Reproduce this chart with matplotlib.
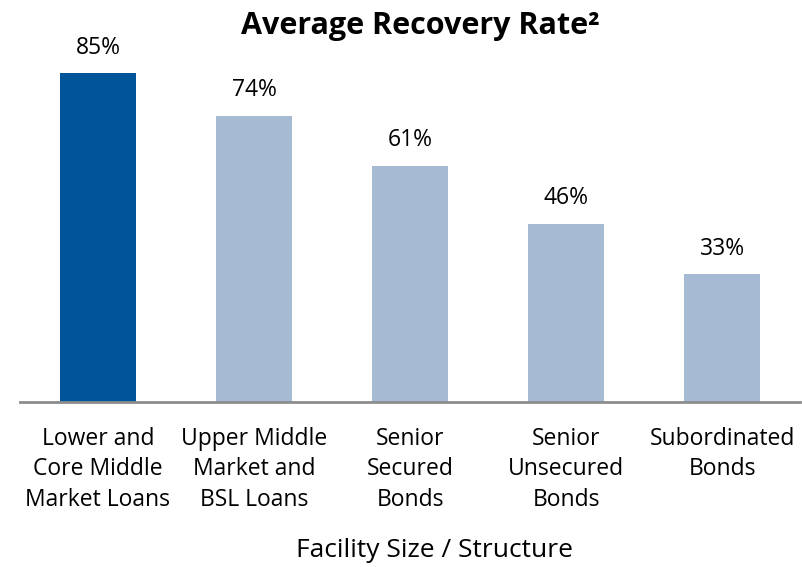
"""Average recovery rate by facility size / structure."""

import matplotlib.pyplot as plt

categories = [
    "Lower and\nCore Middle\nMarket Loans",
    "Upper Middle\nMarket and\nBSL Loans",
    "Senior\nSecured\nBonds",
    "Senior\nUnsecured\nBonds",
    "Subordinated\nBonds",
]
recovery_rate = [85, 74, 61, 46, 33]
bar_colors = ["#00559a", "#a6bad3", "#a6bad3", "#a6bad3", "#a6bad3"]

plt.rcParams["font.family"] = ["Open Sans", "DejaVu Sans"]

fig = plt.figure(figsize=(8.03, 5.67), dpi=100)
ax = fig.add_axes([0.0249, 0.291, 0.9714, 0.647])

x = range(len(categories))
ax.bar(x, recovery_rate, width=0.49, color=bar_colors)
for xi, v in zip(x, recovery_rate):
    ax.text(xi, v + 6.6, f"{v}%", ha="center", va="center", fontsize=16.5)

ax.set_xlim(-0.5, len(categories) - 0.5)
ax.set_ylim(0, 94.8)
ax.set_yticks([])
ax.set_xticks(list(x))
ax.set_xticklabels(categories, fontsize=16.5, linespacing=1.36)
ax.tick_params(axis="x", length=0, pad=18)
for side in ["top", "right", "left"]:
    ax.spines[side].set_visible(False)
ax.spines["bottom"].set_color("#8c8c8c")
ax.spines["bottom"].set_linewidth(2)
ax.set_xlabel("Facility Size / Structure", fontsize=19, va="center")
ax.xaxis.set_label_coords(0.531, -0.405)

fig.suptitle("Average Recovery Rate²", fontsize=22, fontweight="bold",
             x=0.524, y=0.98)

fig.savefig("out.png", dpi=100)
